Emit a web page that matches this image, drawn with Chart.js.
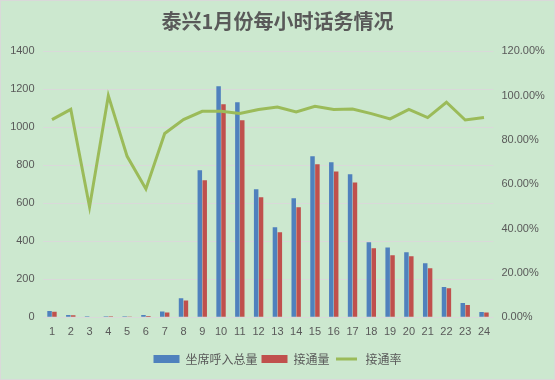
<!DOCTYPE html>
<html><head><meta charset="utf-8">
<script src="https://cdn.jsdelivr.net/npm/chart.js@4/dist/chart.umd.min.js"></script>
<style>
html,body{margin:0;padding:0;background:#fff;}
#wrap{position:absolute;left:0;top:0;width:555px;height:380px;box-sizing:border-box;border:1px solid #d9d9d9;background:#cce8cf;}
</style></head><body>
<div id="wrap"><canvas id="c"></canvas></div>
<script>
const hours = ['1','2','3','4','5','6','7','8','9','10','11','12','13','14','15','16','17','18','19','20','21','22','23','24'];
const totalCalls = [33, 12, 6, 5, 5, 12, 30, 100, 774, 1216, 1132, 674, 474, 626, 847, 816, 753, 395, 368, 342, 284, 160, 75, 28];
const answered = [29, 11, 3, 5, 1, 7, 25, 89, 721, 1121, 1037, 632, 447, 579, 805, 768, 710, 363, 326, 321, 258, 153, 65, 25];
const answerRate = [0.892, 0.938, 0.498, 1.0, 0.726, 0.579, 0.829, 0.892, 0.929, 0.929, 0.919, 0.937, 0.949, 0.926, 0.952, 0.938, 0.940, 0.919, 0.895, 0.938, 0.901, 0.970, 0.890, 0.901];
const leftTicks = {min: 0, max: 1400, step: 200};
const rightTicks = {min: 0, max: 1.2, step: 0.2};
const seriesNames = ['坐席呼入总量', '接通量', '接通率'];
const titleText = '泰兴1月份每小时话务情况';

const BG = '#cce8cf';
const TXT = '#595959';
Chart.defaults.font.family = '"Liberation Sans", "Noto Sans CJK SC", sans-serif';
Chart.defaults.color = TXT;

new Chart(document.getElementById('c'), {
  type: 'bar',
  data: {
    labels: hours,
    datasets: [
      {label: seriesNames[0], data: totalCalls, backgroundColor: '#4f81bd', yAxisID: 'y', categoryPercentage: 0.52, barPercentage: 0.92, order: 1},
      {label: seriesNames[1], data: answered, backgroundColor: '#c0504d', yAxisID: 'y', categoryPercentage: 0.52, barPercentage: 0.92, order: 1},
      {label: seriesNames[2], data: answerRate, type: 'line', borderColor: '#9bbb59', backgroundColor: '#9bbb59', borderWidth: 3, pointRadius: 0, tension: 0, yAxisID: 'y1', order: -1}
    ]
  },
  options: {
    responsive: true,
    maintainAspectRatio: false,
    animation: false,
    layout: {padding: {top: 0, bottom: 4, left: 0, right: 0}},
    plugins: {
      tooltip: {enabled: false},
      title: {
        display: true, text: titleText, color: TXT,
        font: {size: 20, weight: 'bold', family: '"Noto Sans CJK SC", sans-serif'},
        padding: {top: 8, bottom: 18.3}
      },
      legend: {
        position: 'bottom',
        labels: {
          boxWidth: 26, boxHeight: 8, padding: 4, color: TXT,
          font: {size: 12, family: '"Noto Sans CJK SC", sans-serif'},
          generateLabels(chart) {
            return chart.data.datasets.map((ds, i) => ({
              text: ds.label,
              fillStyle: ds.type === 'line' ? ds.borderColor : ds.backgroundColor,
              strokeStyle: ds.type === 'line' ? BG : ds.backgroundColor,
              lineWidth: ds.type === 'line' ? 5 : 0,
              hidden: false, datasetIndex: i, fontColor: TXT
            }));
          }
        }
      }
    },
    scales: {
      x: {
        grid: {display: false, drawTicks: false},
        border: {display: false},
        ticks: {color: TXT, font: {size: 11}, padding: 8, maxRotation: 0, autoSkip: false},
        afterFit(s) { s.height = 31.7; }
      },
      y: {
        position: 'left', min: leftTicks.min, max: leftTicks.max,
        grid: {color: '#d9d9d9', lineWidth: 1, drawTicks: false},
        border: {display: false},
        ticks: {stepSize: leftTicks.step, color: TXT, font: {size: 11}, padding: 8,
          callback: v => String(v)},
        afterFit(s) { s.width = 41.6; }
      },
      y1: {
        position: 'right', min: rightTicks.min, max: rightTicks.max,
        grid: {display: false, drawTicks: false},
        border: {display: false},
        ticks: {stepSize: rightTicks.step, color: TXT, font: {size: 11}, padding: 8,
          callback: v => (v * 100).toFixed(2) + '%'},
        afterFit(s) { s.width = 60.6; }
      }
    }
  }
});
</script>
</body></html>
